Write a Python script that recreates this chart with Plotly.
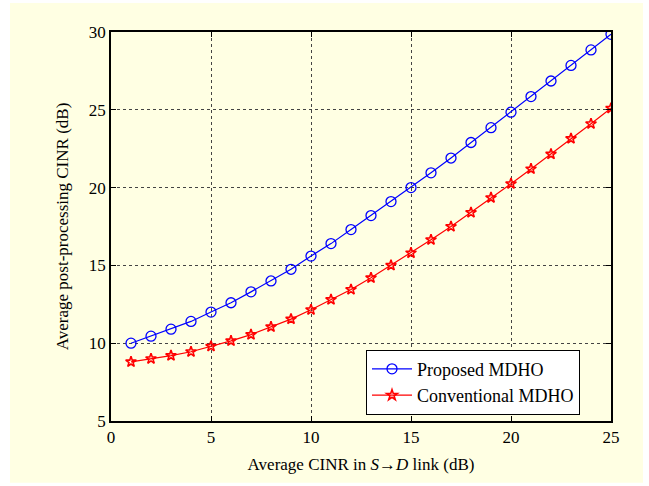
import plotly.graph_objects as go

x_vals = list(range(1, 26))
proposed = [10.0, 10.45, 10.9, 11.4, 12.0, 12.6, 13.3, 14.0, 14.75, 15.6,
            16.4, 17.3, 18.2, 19.1, 20.0, 20.95, 21.9, 22.9, 23.85, 24.85,
            25.85, 26.85, 27.85, 28.85, 29.85]
conventional = [8.8, 9.0, 9.2, 9.45, 9.8, 10.15, 10.55, 11.05, 11.55, 12.15,
                12.8, 13.45, 14.2, 15.0, 15.8, 16.65, 17.5, 18.4, 19.35, 20.25,
                21.2, 22.15, 23.15, 24.1, 25.1]
x_ticks = [0, 5, 10, 15, 20, 25]
y_ticks = [5, 10, 15, 20, 25, 30]

font = "Liberation Serif"

fig = go.Figure()
fig.add_trace(go.Scatter(x=x_vals, y=proposed, mode="lines+markers",
                         name="Proposed MDHO",
                         line=dict(color="#0000ff", width=1.2),
                         marker=dict(symbol="circle-open", size=10,
                                     color="#0000ff", line=dict(width=1.3))))
fig.add_trace(go.Scatter(x=x_vals, y=conventional, mode="lines+markers",
                         name="Conventional MDHO",
                         line=dict(color="#ff0000", width=1.2),
                         marker=dict(symbol="star-open", size=8,
                                     color="#ff0000", line=dict(width=1.6))))

axis_common = dict(showgrid=True, gridcolor="#444444", griddash="dot", gridwidth=1,
                   showline=True, linecolor="black", linewidth=1.5, mirror="ticks",
                   ticks="inside", ticklen=5, tickcolor="black", zeroline=False,
                   tickfont=dict(family=font, size=17, color="black"))

fig.update_xaxes(range=[0, 25], tickvals=x_ticks,
                 title=dict(text="Average CINR in <i>S</i>→<i>D</i> link (dB)",
                            font=dict(family=font, size=17, color="black"), standoff=12),
                 **axis_common)
fig.update_yaxes(range=[5, 30], tickvals=y_ticks,
                 title=dict(text="Average post-processing CINR (dB)",
                            font=dict(family=font, size=17, color="black"), standoff=16),
                 **axis_common)

fig.add_shape(type="rect", xref="paper", yref="paper",
              x0=-0.202, x1=1.064, y0=-0.159, y1=1.0746,
              fillcolor="#ffffe3", line=dict(width=0), layer="below")

fig.update_layout(
    width=649, height=486,
    margin=dict(l=111, r=38, t=32, b=65),
    paper_bgcolor="white", plot_bgcolor="white",
    font=dict(family=font, size=17, color="black"),
    legend=dict(x=0.51, y=0.1, xanchor="left", yanchor="middle",
                bgcolor="white", bordercolor="black", borderwidth=1,
                font=dict(family=font, size=18, color="black"),
                tracegroupgap=0, itemwidth=40),
    showlegend=True,
)

fig.write_html("out.html")
